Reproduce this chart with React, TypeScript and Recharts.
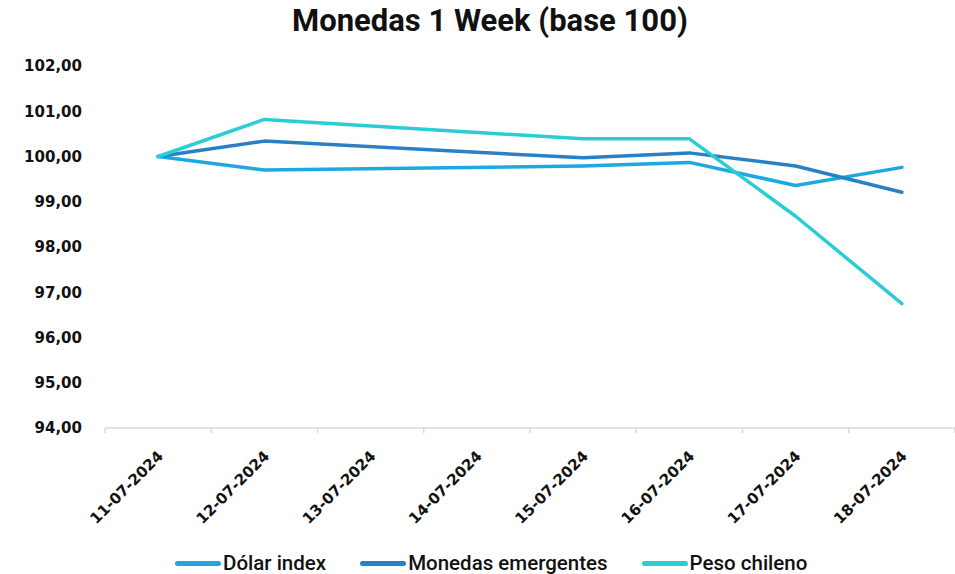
import React from 'react';
import { LineChart, Line, XAxis, YAxis, Legend } from 'recharts';

const dates = ['11-07-2024', '12-07-2024', '13-07-2024', '14-07-2024', '15-07-2024', '16-07-2024', '17-07-2024', '18-07-2024'];
const dolarIndex = [100, 99.7, null, null, 99.79, 99.87, 99.36, 99.76];
const monedasEmergentes = [100, 100.34, null, null, 99.97, 100.08, 99.79, 99.21];
const pesoChileno = [100, 100.82, null, null, 100.39, 100.39, 98.68, 96.75];
const yTicks = [94, 95, 96, 97, 98, 99, 100, 101, 102];

const data = dates.map((d, i) => ({
  i,
  date: d,
  dolar: dolarIndex[i],
  emergentes: monedasEmergentes[i],
  peso: pesoChileno[i],
}));

const xTicks: number[] = [];
for (let k = 0; k <= dates.length; k++) {
  xTicks.push(k - 0.5);
  if (k < dates.length) xTicks.push(k);
}

const COLORS = { dolar: '#1CA9E1', emergentes: '#2A80C5', peso: '#2BCCD6' };
const TICK_FONT = 'DejaVu Sans';

const XTick = (props: any) => {
  const { x, y, payload } = props;
  const v = payload.value;
  if (!Number.isInteger(v)) {
    return <line x1={x} x2={x} y1={y} y2={y + 5} stroke="#d9d9d9" strokeWidth={1.5} />;
  }
  return (
    <g transform={`translate(${x + 6},${y + 29})`}>
      <text
        transform="rotate(-45)"
        textAnchor="end"
        fontFamily={TICK_FONT}
        fontWeight="bold"
        fontSize={15}
        fill="#111"
      >
        {dates[v]}
      </text>
    </g>
  );
};

const LegendContent = (props: any) => {
  const { payload } = props;
  return (
    <div style={{ display: 'flex', height: 40, alignItems: 'flex-end', boxSizing: 'border-box' }}>
      {(payload || []).map((p: any, idx: number) => (
        <div key={idx} style={{ display: 'flex', alignItems: 'center', marginRight: 34, position: 'relative', top: 2 }}>
          <div style={{ width: 46, height: 5, borderRadius: 3, background: p.color, marginRight: 2 }} />
          <span style={{ fontFamily: 'Roboto', fontWeight: 500, fontSize: 20.5, color: '#111', lineHeight: '26px' }}>{p.value}</span>
        </div>
      ))}
    </div>
  );
};

export default function App() {
  return (
    <div style={{ position: 'absolute', left: 0, top: 0, width: 955, height: 574, background: '#fff' }}>
      <div
        style={{
          position: 'absolute',
          left: 292,
          top: 3,
          fontFamily: 'Roboto',
          fontWeight: 700,
          fontSize: 31,
          lineHeight: '36px',
          color: '#111',
          whiteSpace: 'nowrap',
        }}
      >
        Monedas 1 Week (base 100)
      </div>
      <LineChart width={955} height={574} data={data} margin={{ top: 66, right: 0, left: 0, bottom: 0 }}>
        <XAxis
          dataKey="i"
          type="number"
          domain={[-0.5, 7.5]}
          ticks={xTicks}
          interval={0}
          height={106}
          tickLine={false}
          tickSize={0}
          tickMargin={0}
          axisLine={{ stroke: '#d9d9d9', strokeWidth: 1.5 }}
          tick={<XTick />}
        />
        <YAxis
          domain={[94, 102]}
          ticks={yTicks}
          interval={0}
          width={105}
          axisLine={false}
          tickLine={false}
          tickSize={0}
          tickMargin={23}
          tickFormatter={(v: number) => v.toFixed(2).replace('.', ',')}
          tick={{ fontFamily: TICK_FONT, fontWeight: 'bold', fontSize: 15, fill: '#111' }}
        />
        <Legend
          verticalAlign="bottom"
          align="left"
          height={40}
          wrapperStyle={{ left: 175 }}
          content={<LegendContent />}
        />
        <Line dataKey="dolar" name="Dólar index" stroke={COLORS.dolar} strokeWidth={3.5} dot={false} connectNulls isAnimationActive={false} strokeLinejoin="round" strokeLinecap="round" />
        <Line dataKey="emergentes" name="Monedas emergentes" stroke={COLORS.emergentes} strokeWidth={3.5} dot={false} connectNulls isAnimationActive={false} strokeLinejoin="round" strokeLinecap="round" />
        <Line dataKey="peso" name="Peso chileno" stroke={COLORS.peso} strokeWidth={3.5} dot={false} connectNulls isAnimationActive={false} strokeLinejoin="round" strokeLinecap="round" />
      </LineChart>
    </div>
  );
}
